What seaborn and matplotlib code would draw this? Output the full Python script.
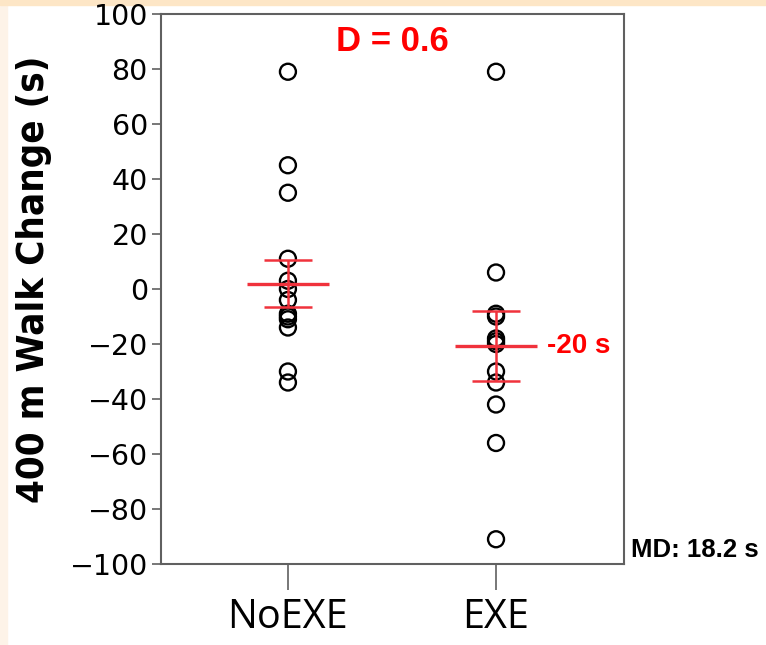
import numpy as np
import pandas as pd
import matplotlib
matplotlib.use('Agg')
import matplotlib.pyplot as plt
import seaborn as sns
from matplotlib.patches import Rectangle

sns.set_theme(style='white')
plt.rcParams['font.family'] = ['DejaVu Sans']
plt.rcParams['text.color'] = 'black'
plt.rcParams['axes.labelcolor'] = 'black'

# Data
groups = ['NoEXE', 'EXE']
noexe = [79, 45, 35, 11, 3, 0, -4, -9, -10, -11, -14, -30, -34]
exe = [79, 6, -9, -10, -18, -19, -20, -30, -34, -42, -56, -91]
means = [2, -20.8]
sems = [8.5, 12.8]
effect_text = 'D = 0.6'
exe_label = '-20 s'
md_text = 'MD: 18.2 s'

df = pd.DataFrame({'group': ['NoEXE'] * len(noexe) + ['EXE'] * len(exe),
                   'change': noexe + exe})

fig = plt.figure(figsize=(7.66, 6.45), dpi=100)
fig.patch.set_facecolor('white')
# slide background strips
fig.patches.append(Rectangle((0, 0), 7 / 766, 1, transform=fig.transFigure,
                             color='#fdf3e8', zorder=-10))
fig.patches.append(Rectangle((0, 1 - 5 / 645), 1, 5 / 645, transform=fig.transFigure,
                             color='#fde6c6', zorder=-10))

ax = fig.add_axes([161 / 766, 1 - 564 / 645, 463 / 766, 550 / 645])

sns.stripplot(data=df, x='group', y='change', order=groups, jitter=False,
              size=11.5, linewidth=1.7, color='black', ax=ax, zorder=3)
for c in ax.collections:
    c.set_facecolor('none')
    c.set_edgecolor('black')

# mean and SE in red
xpos = np.arange(len(groups))
red = '#f0323c'
ax.hlines(means, xpos - 0.195, xpos + 0.195, color=red, lw=2.4, zorder=4)
ax.errorbar(xpos, means, yerr=sems, fmt='none', ecolor=red, elinewidth=1.8,
            capsize=17, capthick=1.8, zorder=4)

ax.set_xlim(-0.61, 1.615)
ax.set_ylim(-100, 100)
ax.set_yticks(np.arange(-100, 101, 20))
ax.set_xlabel('')
ax.set_ylabel('400 m Walk Change (s)', fontsize=27.5, fontweight='bold',
              fontstretch='condensed', color='black')
ax.yaxis.set_label_coords(-0.236, 0.518)

for s in ax.spines.values():
    s.set_color('#606060')
    s.set_linewidth(1.5)
ax.tick_params(axis='y', direction='out', length=6.5, width=1.2, color='#606060',
               labelsize=20.5, pad=3, left=True, labelcolor='black')
ax.tick_params(axis='x', direction='out', length=19, width=1.2, color='#606060',
               pad=5, bottom=True, labelcolor='black')
for lab in ax.get_xticklabels():
    lab.set_fontfamily('Open Sans')
    lab.set_fontsize(28.5)

ax.text(0.5, 0.95, effect_text, transform=ax.transAxes, ha='center', va='center',
        color='red', fontsize=25, fontweight='bold', family='Liberation Sans')
ax.text(1.245, means[1], exe_label, ha='left', va='center', color='red',
        fontsize=20, fontweight='bold', family='Liberation Sans')
fig.text(631 / 766, 1 - 550 / 645, md_text, ha='left', va='center', color='black',
         fontsize=18.5, fontweight='bold', family='Liberation Sans')

fig.savefig('out.png', dpi=100)
